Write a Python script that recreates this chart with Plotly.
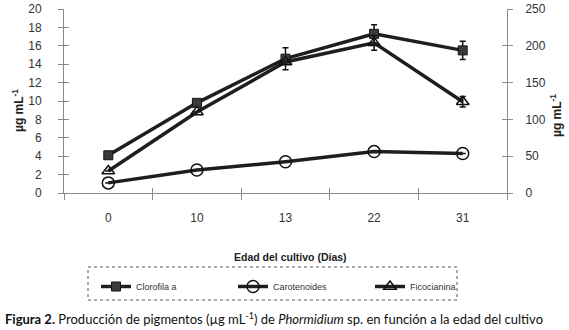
import plotly.graph_objects as go

dias = ["0", "10", "13", "22", "31"]
clorofila = [4.1, 9.8, 14.6, 17.3, 15.5]
clorofila_err = [0, 0, 1.2, 1.0, 1.0]
carotenoides = [1.1, 2.5, 3.4, 4.5, 4.3]
carotenoides_err = [0, 0, 0, 0, 0]
ficocianina = [30, 110, 178, 204, 124]
ficocianina_err = [0, 0, 0, 10, 7]

y_left_ticks = list(range(0, 21, 2))
y_right_ticks = list(range(0, 251, 50))

L, R, T, B = 64, 62, 9, 137
W, H = 569, 330
pw, ph = W - L - R, H - T - B


def px_x(p):
    return (p - L) / pw


def px_y(p):
    return (H - B - p) / ph


line_col = "#1e1e1e"
axis_col = "#8a8a8a"
tick_font = dict(family="Liberation Sans, Arial", size=12, color="#333")

fig = go.Figure()
fig.add_trace(go.Scatter(
    x=dias, y=clorofila, name="Clorofila a", mode="lines+markers",
    line=dict(color=line_col, width=3.5),
    marker=dict(symbol="square", size=9, color="#3a3a3a",
                line=dict(color="#111", width=1)),
    error_y=dict(type="data", array=clorofila_err, color="#111",
                 thickness=1.5, width=3),
))
fig.add_trace(go.Scatter(
    x=dias, y=carotenoides, name="Carotenoides", mode="lines+markers",
    line=dict(color=line_col, width=3.5),
    marker=dict(symbol="circle-open", size=12, color="#111",
                line=dict(width=1.5)),
    error_y=dict(type="data", array=carotenoides_err, color="#111",
                 thickness=1.5, width=3),
))
fig.add_trace(go.Scatter(
    x=dias, y=ficocianina, name="Ficocianina", mode="lines+markers",
    yaxis="y2",
    line=dict(color=line_col, width=3.5),
    marker=dict(symbol="triangle-up-open", size=11, color="#111",
                line=dict(width=1.5)),
    error_y=dict(type="data", array=ficocianina_err, color="#111",
                 thickness=1.5, width=3),
))
# invisible helper traces so the inner-tick overlay axes are drawn
fig.add_trace(go.Scatter(x=dias, y=[None] * len(dias), xaxis="x2", yaxis="y3",
                         showlegend=False, hoverinfo="skip", mode="lines"))
fig.add_trace(go.Scatter(x=dias, y=[None] * len(dias), xaxis="x2", yaxis="y4",
                         showlegend=False, hoverinfo="skip", mode="lines"))

common = dict(showgrid=False, zeroline=False, automargin=False)

fig.update_layout(
    width=W, height=H,
    margin=dict(l=L, r=R, t=T, b=B, pad=0, autoexpand=False),
    paper_bgcolor="white", plot_bgcolor="white",
    showlegend=True,
    legend=dict(
        orientation="h", x=px_x(96), y=px_y(272), xanchor="left", yanchor="top",
        font=dict(family="Liberation Sans, Arial", size=9, color="#333"),
        entrywidth=92, entrywidthmode="pixels",
        borderwidth=0, bgcolor="rgba(0,0,0,0)", tracegroupgap=0,
    ),
    xaxis=dict(
        type="category", range=[-0.5, 4.5], tickson="boundaries",
        showline=True, linecolor=axis_col, linewidth=1,
        ticks="outside", ticklen=6, tickcolor=axis_col,
        tickfont=tick_font, ticklabelstandoff=14, **common,
    ),
    xaxis2=dict(
        type="category", range=[-0.5, 4.5], tickson="boundaries", overlaying="x",
        side="bottom", showline=False, showticklabels=False,
        ticks="inside", ticklen=5, tickcolor=axis_col, **common,
    ),
    yaxis=dict(
        range=[0, 20], tickvals=y_left_ticks,
        showline=True, linecolor=axis_col, linewidth=1,
        ticks="outside", ticklen=5, tickcolor=axis_col,
        tickfont=tick_font, ticklabelstandoff=14, **common,
    ),
    yaxis2=dict(
        range=[0, 250], tickvals=y_right_ticks, overlaying="y", side="right",
        showline=True, linecolor=axis_col, linewidth=1,
        ticks="outside", ticklen=5, tickcolor=axis_col,
        tickfont=tick_font, ticklabelstandoff=10, **common,
    ),
    yaxis3=dict(
        range=[0, 20], tickvals=y_left_ticks, overlaying="y", side="left",
        showline=False, showticklabels=False,
        ticks="inside", ticklen=5, tickcolor=axis_col, **common,
    ),
    yaxis4=dict(
        range=[0, 250], tickvals=y_right_ticks, overlaying="y", side="right",
        showline=False, showticklabels=False,
        ticks="inside", ticklen=5, tickcolor=axis_col, **common,
    ),
    shapes=[dict(
        type="rect", xref="paper", yref="paper",
        x0=px_x(88), x1=px_x(457), y0=px_y(300), y1=px_y(267),
        line=dict(color="#555", width=1, dash="dot"), fillcolor="rgba(0,0,0,0)",
    )],
    annotations=[
        dict(text="<b>µg mL<sup>-1</sup></b>", textangle=-90, xref="paper", yref="paper",
             x=px_x(18), y=px_y(111), xanchor="center", yanchor="middle",
             showarrow=False, font=dict(family="Liberation Sans, Arial", size=12, color="#222")),
        dict(text="<b>µg mL<sup>-1</sup></b>", textangle=-90, xref="paper", yref="paper",
             x=px_x(556), y=px_y(116), xanchor="center", yanchor="middle",
             showarrow=False, font=dict(family="Liberation Sans, Arial", size=12, color="#222")),
        dict(text="<b>Edad del cultivo (Días)</b>", xref="paper", yref="paper",
             x=px_x(290), y=px_y(257), xanchor="center", yanchor="middle",
             showarrow=False, font=dict(family="Liberation Sans, Arial", size=10.5, color="#222")),
        dict(text="<b>Figura 2.</b> Producción de pigmentos (µg mL<sup>-1</sup>) de <i>Phormidium</i> sp. en función a la edad del cultivo",
             xref="paper", yref="paper", x=px_x(3), y=px_y(318), xanchor="left", yanchor="middle",
             showarrow=False, font=dict(family="Lato", size=13, color="#111")),
    ],
)

fig.write_html(
    "out.html",
    config={"displayModeBar": False},
    post_script="document.body.style.margin='0';document.body.style.overflow='hidden';",
)
